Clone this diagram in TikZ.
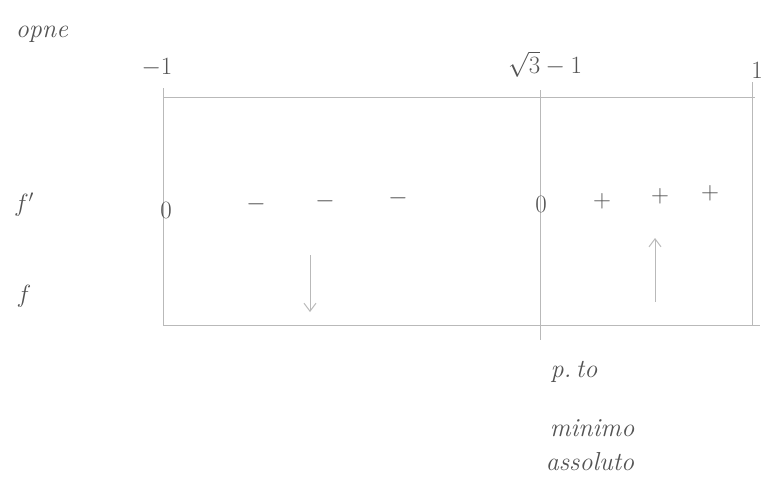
\documentclass[tikz,border=0pt]{standalone}
\usepackage{tikz}
\usetikzlibrary{arrows.meta}

\begin{document}
\begin{tikzpicture}
[x=1pt,y=-1pt,
 pencil/.style={gray!55, line width=0.6pt},
 lbl/.style={text=gray!65!black, font=\itshape\fontsize{26}{30}\selectfont},
 sgn/.style={text=gray!65!black, font=\fontsize{24}{28}\selectfont}
]

\useasboundingbox (0,0) rectangle (768,488);

% corners of the table
\coordinate (A) at (163,97);
\coordinate (B) at (755,97);
\coordinate (C) at (760,325);
\coordinate (D) at (163,325);
\coordinate (M1) at (540,90);
\coordinate (M2) at (540,340);

\draw[pencil] (A) -- (B);
\draw[pencil] (D) -- (C);
\draw[pencil] (163,88) -- (D);
\draw[pencil] (752,82) -- (752,325);
\draw[pencil] (M1) -- (M2);

% header
\node[lbl] (opne) at (42,34) {opne};
\node[sgn] (xa) at (157,68) {$-1$};
\node[sgn] (xb) at (545,64) {$\sqrt{3}-1$};
\node[sgn] (xc) at (757,70) {$1$};

% rows
\node[sgn] (fp) at (24,205) {$f'$};
\node[sgn] (f) at (24,296) {$f$};

\node[sgn] (z1) at (166,210) {$0$};
\node[sgn] (m1) at (256,204) {$-$};
\node[sgn] (m2) at (325,201) {$-$};
\node[sgn] (m3) at (398,198) {$-$};
\node[sgn] (z2) at (541,204) {$0$};
\node[sgn] (p1) at (602,201) {$+$};
\node[sgn] (p2) at (660,196) {$+$};
\node[sgn] (p3) at (710,193) {$+$};

% monotonia
\coordinate (d1) at (310,255);
\coordinate (d2) at (310,312);
\coordinate (u1) at (655,302);
\coordinate (u2) at (655,238);
\draw[pencil, line width=1pt, -{Straight Barb[length=8pt,width=12pt]}] (d1) -- (d2);
\draw[pencil, line width=1pt, -{Straight Barb[length=8pt,width=12pt]}] (u1) -- (u2);

% note below
\node[lbl] (pto) at (574,372) {p.\,to};
\node[lbl] (mn) at (592,428) {minimo};
\node[lbl] (as) at (590,462) {assoluto};

\end{tikzpicture}
\end{document}
